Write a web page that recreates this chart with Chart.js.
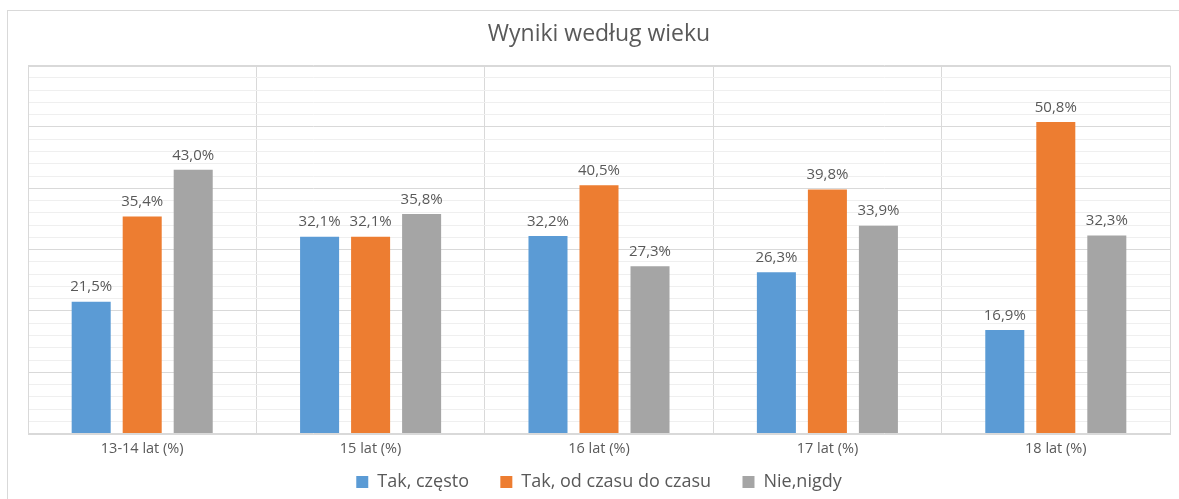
<!DOCTYPE html>
<html>
<head>
<meta charset="utf-8">
<script src="https://cdn.jsdelivr.net/npm/chart.js@4"></script>
<style>
  body { margin: 0; background: #fff; }
  #frame { position: absolute; left: 7px; top: 10px; width: 1200px; height: 500px;
           border-left: 1px solid #d9d9d9; border-top: 1px solid #d9d9d9; }
  #wrap { position: absolute; left: 0; top: 0; width: 1179px; height: 499px; }
</style>
</head>
<body>
<div id="frame"></div>
<div id="wrap"><canvas id="ageChart"></canvas></div>
<script>
const categories = ['13-14 lat (%)', '15 lat (%)', '16 lat (%)', '17 lat (%)', '18 lat (%)'];
const seriesNames = ['Tak, często', 'Tak, od czasu do czasu', 'Nie,nigdy'];
const takCzesto = [21.5, 32.1, 32.2, 26.3, 16.9];
const takOdCzasu = [35.4, 32.1, 40.5, 39.8, 50.8];
const nieNigdy = [43.0, 35.8, 27.3, 33.9, 32.3];
const colors = ['#5B9BD5', '#ED7D31', '#A5A5A5'];

const textColor = '#595959';
const fontFamily = '"Open Sans", "Noto Sans", sans-serif';

// labels above bars, polish decimal comma
const barLabels = {
    id: 'barLabels',
    afterDatasetsDraw(chart) {
        const ctx = chart.ctx;
        ctx.save();
        ctx.font = '15px ' + fontFamily;
        ctx.fillStyle = textColor;
        ctx.textAlign = 'center';
        ctx.textBaseline = 'bottom';
        chart.data.datasets.forEach((ds, i) => {
            chart.getDatasetMeta(i).data.forEach((bar, j) => {
                const txt = ds.data[j].toFixed(1).replace('.', ',') + '%';
                ctx.fillText(txt, bar.x, bar.y - 7);
            });
        });
        ctx.restore();
    }
};

// plot area border
const plotFrame = {
    id: 'plotFrame',
    beforeDatasetsDraw(chart) {
        const { ctx, chartArea: a } = chart;
        ctx.save();
        ctx.strokeStyle = '#d9d9d9';
        ctx.lineWidth = 1;
        ctx.strokeRect(Math.round(a.left) + 0.5, Math.round(a.top) + 0.5,
            Math.round(a.right - a.left), Math.round(a.bottom - a.top));
        ctx.restore();
    }
};

new Chart(document.getElementById('ageChart'), {
    type: 'bar',
    data: {
        labels: categories,
        datasets: [
            { label: seriesNames[0], data: takCzesto, backgroundColor: colors[0] },
            { label: seriesNames[1], data: takOdCzasu, backgroundColor: colors[1] },
            { label: seriesNames[2], data: nieNigdy, backgroundColor: colors[2] }
        ]
    },
    options: {
        responsive: true,
        maintainAspectRatio: false,
        animation: false,
        categoryPercentage: 0.67,
        barPercentage: 0.765,
        layout: { padding: { left: 28, right: 9, top: 0, bottom: -2 } },
        scales: {
            x: {
                grid: { color: '#d9d9d9', offset: true, drawTicks: false },
                border: { display: false },
                ticks: { color: textColor, font: { family: fontFamily, size: 14.5 }, padding: 7 }
            },
            y: {
                min: 0,
                max: 60,
                ticks: { display: false, stepSize: 2 },
                border: { display: false },
                grid: {
                    drawTicks: false,
                    color: ctx => (ctx.tick && ctx.tick.value % 10 === 0) ? '#d9d9d9' : '#efefef'
                }
            }
        },
        plugins: {
            title: {
                display: true,
                text: 'Wyniki według wieku',
                color: textColor,
                font: { family: fontFamily, size: 23, weight: 'normal' },
                padding: { top: 21, bottom: 17 }
            },
            legend: {
                position: 'bottom',
                labels: {
                    color: textColor,
                    font: { family: fontFamily, size: 18 },
                    boxWidth: 12,
                    boxHeight: 12,
                    padding: 8,
                    // extra space after the first two items, like the original
                    generateLabels(chart) {
                        const items = Chart.defaults.plugins.legend.labels.generateLabels(chart);
                        items.forEach((it, i) => {
                            if (i < items.length - 1) it.text = it.text + '     ';
                        });
                        return items;
                    }
                }
            },
            tooltip: { enabled: false }
        }
    },
    plugins: [barLabels, plotFrame]
});
</script>
</body>
</html>
